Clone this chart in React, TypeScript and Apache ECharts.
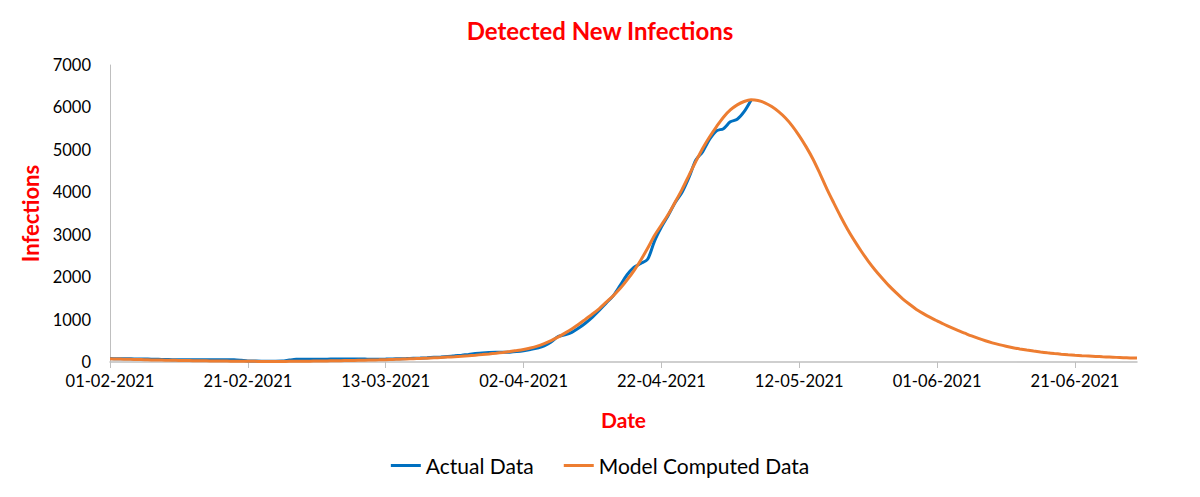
import React, { useEffect, useRef } from "react";
import * as echarts from "echarts";

// ---- data ----
const startDate = { year: 2021, month: 2, day: 1 }; // 01-02-2021
const dayCount = 150; // 01-02-2021 .. 30-06-2021

const actualData: (number | null)[] = [
  80, 78, 76, 74, 72, 70, 66, 62, 58, 55,
  53, 52, 52, 52, 53, 54, 55, 55, 52, 40,
  25, 22, 20, 20, 20, 22, 45, 62, 62, 62,
  63, 65, 68, 70, 72, 72, 70, 68, 66, 66,
  68, 72, 76, 80, 86, 92, 100, 110, 120, 132,
  145, 160, 178, 198, 215, 225, 228, 228, 232, 245,
  265, 295, 330, 380, 470, 600, 640, 700, 800, 920,
  1060, 1220, 1390, 1560, 1800, 2050, 2230, 2320, 2420, 2850,
  3180, 3460, 3760, 4000, 4350, 4760, 4960, 5250, 5450, 5500,
  5660, 5720, 5900, 6170,
];

const modelData: number[] = [
  75, 70, 66, 62, 58, 54, 50, 47, 44, 41,
  38, 35, 32, 29, 27, 25, 23, 21, 19, 17,
  16, 15, 14, 14, 14, 14, 15, 16, 18, 20,
  22, 24, 27, 30, 33, 36, 40, 44, 48, 51,
  55, 60, 65, 71, 77, 84, 91, 99, 107, 116,
  125, 136, 148, 161, 175, 190, 207, 226, 247, 270,
  296, 330, 375, 435, 505, 585, 680, 780, 890, 1010,
  1130, 1260, 1410, 1560, 1730, 1930, 2150, 2400, 2680, 2980,
  3230, 3480, 3770, 4070, 4400, 4730, 5040, 5310, 5550, 5770,
  5940, 6060, 6140, 6180, 6165, 6110, 6020, 5900, 5750, 5560,
  5330, 5070, 4780, 4440, 4080, 3750, 3430, 3130, 2860, 2610,
  2380, 2170, 1980, 1800, 1640, 1490, 1360, 1240, 1140, 1050,
  970, 890, 815, 745, 680, 615, 555, 500, 452, 410,
  372, 338, 308, 281, 257, 236, 217, 200, 185, 172,
  160, 149, 140, 131, 123, 116, 109, 103, 97, 92,
];

const yTicks = { min: 0, max: 7000, interval: 1000 };
const labelEvery = 20;

function buildCategories(): string[] {
  const out: string[] = [];
  const d = new Date(Date.UTC(startDate.year, startDate.month - 1, startDate.day));
  for (let i = 0; i < dayCount; i++) {
    const dd = String(d.getUTCDate()).padStart(2, "0");
    const mm = String(d.getUTCMonth() + 1).padStart(2, "0");
    out.push(`${dd}-${mm}-${d.getUTCFullYear()}`);
    d.setUTCDate(d.getUTCDate() + 1);
  }
  return out;
}
const categories = buildCategories();

const FONT = "Lato, 'Open Sans', sans-serif";

export default function App() {
  const ref = useRef<HTMLDivElement>(null);
  useEffect(() => {
    if (!ref.current) return;
    const chart = echarts.init(ref.current, undefined, { renderer: "svg" });
    chart.setOption({
      animation: false,
      backgroundColor: "#ffffff",
      textStyle: { fontFamily: FONT },
      title: {
        text: "Detected New Infections",
        left: "center",
        top: 13,
        textStyle: { color: "#ff0000", fontSize: 24, fontWeight: "bold", fontFamily: FONT },
      },
      grid: { left: 110, right: 63, top: 65, bottom: 135, containLabel: false },
      legend: {
        bottom: 16,
        left: "center",
        itemGap: 30,
        itemWidth: 30,
        itemHeight: 3,
        icon: "rect",
        textStyle: { fontSize: 21, color: "#000", fontFamily: FONT },
        data: ["Actual Data", "Model Computed Data"],
      },
      xAxis: {
        type: "category",
        data: categories,
        boundaryGap: false,
        name: "Date",
        nameLocation: "middle",
        nameGap: 47,
        nameTextStyle: { color: "#ff0000", fontSize: 21, fontWeight: "bold", fontFamily: FONT },
        axisLine: { lineStyle: { color: "#bfbfbf", width: 1.5 } },
        axisTick: { show: true, interval: labelEvery - 1, length: 6, lineStyle: { color: "#bfbfbf" } },
        axisLabel: {
          interval: labelEvery - 1,
          color: "#000",
          fontSize: 16.5,
          margin: 10,
          fontFamily: FONT,
        },
        splitLine: { show: false },
      },
      yAxis: {
        type: "value",
        min: yTicks.min,
        max: yTicks.max,
        interval: yTicks.interval,
        name: "Infections",
        nameLocation: "middle",
        nameGap: 66,
        nameRotate: 90,
        nameTextStyle: { color: "#ff0000", fontSize: 22, fontWeight: "bold", fontFamily: FONT },
        axisLine: { show: true, lineStyle: { color: "#bfbfbf", width: 1 } },
        axisTick: { show: false },
        axisLabel: {
          color: "#000",
          fontSize: 16.5,
          margin: 19,
          fontFamily: FONT,
          formatter: (v: number) => String(v),
        },
        splitLine: { show: false },
      },
      series: [
        {
          name: "Actual Data",
          type: "line",
          data: actualData,
          showSymbol: false,
          smooth: 0.3,
          connectNulls: false,
          lineStyle: { color: "#0070c0", width: 3 },
          itemStyle: { color: "#0070c0" },
        },
        {
          name: "Model Computed Data",
          type: "line",
          data: modelData,
          showSymbol: false,
          smooth: 0.3,
          lineStyle: { color: "#ed7d31", width: 3 },
          itemStyle: { color: "#ed7d31" },
        },
      ],
    });
    return () => chart.dispose();
  }, []);
  return <div ref={ref} style={{ width: 1200, height: 497, margin: -8 }} />;
}
